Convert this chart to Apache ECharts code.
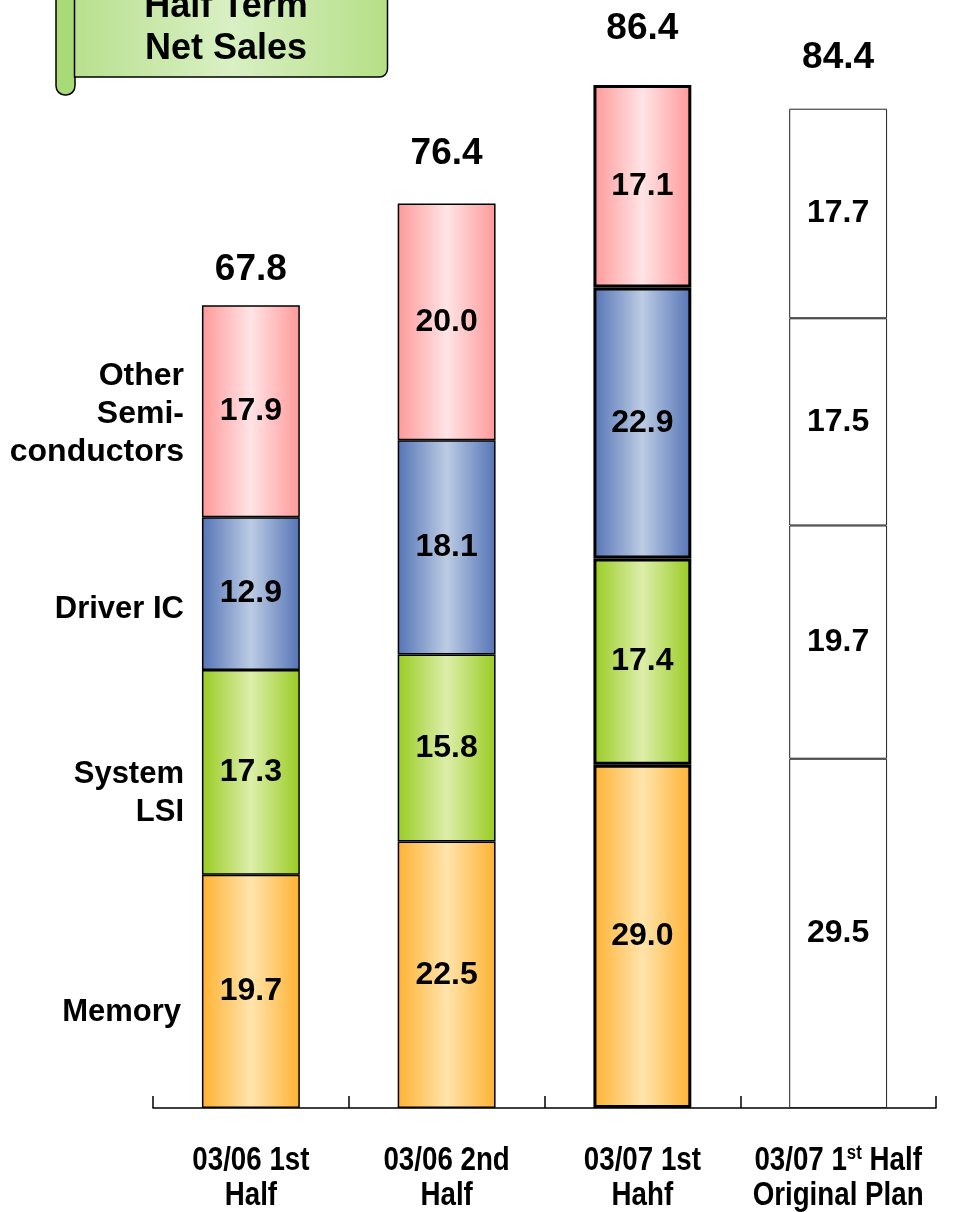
<!DOCTYPE html>
<html>
<head>
<meta charset="utf-8">
<script src="https://cdn.jsdelivr.net/npm/echarts@6/dist/echarts.min.js"></script>
<style>html,body{margin:0;padding:0;background:#fff;}#c{width:968px;height:1212px;}</style>
</head>
<body>
<div id="c"></div>
<script>
var categories = ['03/06 1st\nHalf', '03/06 2nd\nHalf', '03/07 1st\nHahf', '03/07 1{sup|st} Half\nOriginal Plan'];
var memory = [19.7, 22.5, 29.0, 29.5];
var systemLSI = [17.3, 15.8, 17.4, 19.7];
var driverIC = [12.9, 18.1, 22.9, 17.5];
var otherSemi = [17.9, 20.0, 17.1, 17.7];
var totals = [67.8, 76.4, 86.4, 84.4];
var rowLabels = ['Other\nSemi-\nconductors', 'Driver IC', 'System\nLSI', 'Memory'];
var titleText = 'Half Term\nNet Sales';

function grad(edge, mid) {
  return new echarts.graphic.LinearGradient(0, 0, 1, 0, [
    {offset: 0, color: edge}, {offset: 0.5, color: mid}, {offset: 1, color: edge}
  ]);
}
var fills = [
  grad('#FFB232', '#FFE4AC'),
  grad('#99CC22', '#DDEEAA'),
  grad('#5574B6', '#BCCCE4'),
  grad('#FF9999', '#FFE4E6')
];
var borderW = [1.5, 1.5, 3, 1];
var borderC = ['#000', '#000', '#000', '#222'];
var totalDist = [17, 31, 38, 32];

function makeData(vals, fill) {
  return vals.map(function (v, i) {
    return {
      value: v,
      itemStyle: {
        color: i === 3 ? '#ffffff' : fill,
        borderColor: borderC[i],
        borderWidth: borderW[i]
      }
    };
  });
}

var font = "'Liberation Sans', Arial, Helvetica, sans-serif";
var segLabel = {
  show: true, position: 'inside', color: '#000', fontWeight: 'bold',
  fontSize: 32, fontFamily: font,
  formatter: function (p) { return p.value.toFixed(1); }
};

var seriesVals = [memory, systemLSI, driverIC, otherSemi];
var series = seriesVals.map(function (vals, si) {
  return {
    type: 'bar', stack: 'total', barWidth: '50%',
    data: makeData(vals, fills[si]),
    label: segLabel,
    emphasis: {disabled: true}
  };
});
series.push({
  type: 'bar', stack: 'total', barWidth: '50%',
  data: totals.map(function (t, i) {
    return {value: 0, label: {distance: totalDist[i]}};
  }),
  itemStyle: {color: 'transparent', borderWidth: 0},
  label: {
    show: true, position: 'top', color: '#000', fontWeight: 'bold',
    fontSize: 37, fontFamily: font,
    formatter: function (p) { return totals[p.dataIndex].toFixed(1); }
  },
  emphasis: {disabled: true},
  silent: true
});

var rowY = [414, 609, 793, 1012];
var rowX = [184, 184, 184, 181];
var rowSize = [32, 31, 31, 31];
function buildGraphics(catX) {
  var g = [
    {
      type: 'rect', shape: {x: 56, y: -30, width: 19, height: 125, r: 9},
      style: {fill: '#A9DA78', stroke: '#000', lineWidth: 1.5}
    },
    {
      type: 'rect', shape: {x: 74.5, y: -20, width: 313, height: 97, r: [0, 0, 8, 0]},
      style: {
        fill: new echarts.graphic.LinearGradient(0, 0, 1, 0, [
          {offset: 0, color: '#B8E08E'}, {offset: 0.5, color: '#D9F0C4'}, {offset: 1, color: '#B5DF86'}
        ]),
        stroke: '#000', lineWidth: 1.5
      }
    },
    {
      type: 'text', x: 226, y: 28,
      style: {
        text: titleText, align: 'center', verticalAlign: 'middle',
        font: 'bold 36px ' + font, lineHeight: 42, fill: '#000'
      }
    }
  ];
  rowLabels.forEach(function (t, i) {
    g.push({
      type: 'text', x: rowX[i], y: rowY[i],
      style: {
        text: t, align: 'right', verticalAlign: 'middle',
        font: 'bold ' + rowSize[i] + 'px ' + font, lineHeight: 38, fill: '#000'
      }
    });
  });
  categories.forEach(function (t, i) {
    g.push({
      type: 'text', x: catX[i], y: 1178, scaleX: 0.84, scaleY: 1,
      style: {
        text: t, align: 'center', verticalAlign: 'middle',
        font: 'bold 33px ' + font, lineHeight: 35, fill: '#000',
        rich: {
          sup: {font: 'bold 20px ' + font, lineHeight: 35, padding: [0, 0, 14, 0]}
        }
      }
    });
  });
  return g;
}

var chart = echarts.init(document.getElementById('c'));
chart.setOption({
  animation: false,
  grid: {left: 153, right: 32, top: 42.4, bottom: 104},
  xAxis: {
    type: 'category', data: categories,
    axisLine: {lineStyle: {color: '#000', width: 1.5}},
    axisTick: {show: true, interval: 0, inside: true, length: 12, lineStyle: {color: '#000', width: 1.5}},
    axisLabel: {show: false, interval: 0}
  },
  yAxis: {type: 'value', min: 0, max: 90, show: false},
  series: series
});
var catX = categories.map(function (c, i) {
  return chart.convertToPixel({xAxisIndex: 0}, i);
});
chart.setOption({graphic: buildGraphics(catX)});
</script>
</body>
</html>
